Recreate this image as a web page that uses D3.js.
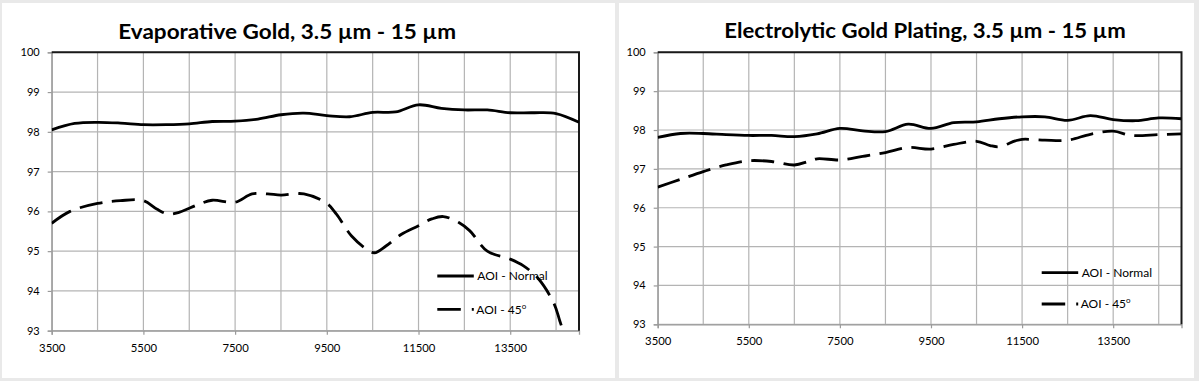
<!DOCTYPE html>
<html>
<head>
<meta charset="utf-8">
<script src="https://cdn.jsdelivr.net/npm/d3@7"></script>
<style>
  html, body { margin: 0; padding: 0; background: #e9e9e9; }
  svg { display: block; }
  text { font-family: Lato, "Open Sans", "Liberation Sans", sans-serif; fill: #000; }
</style>
</head>
<body>
<svg id="chart" width="1199" height="381"></svg>
<script>
// ---------- data ----------
const titles = ["Evaporative Gold, 3.5 \u00b5m - 15 \u00b5m", "Electrolytic Gold Plating, 3.5 \u00b5m - 15 \u00b5m"];
const seriesNames = ["AOI - Normal", "AOI - 45"];
const xTickLabels = ["3500", "5500", "7500", "9500", "11500", "13500"];
const xGridValues = [3500, 4500, 5500, 6500, 7500, 8500, 9500, 10500, 11500, 12500, 13500, 14500];
const yTickLabels = ["93", "94", "95", "96", "97", "98", "99", "100"];

const evapNormalWl = [3500, 4000, 4500, 5000, 5500, 6000, 6500, 7000, 7500, 8000, 8500, 9000, 9500, 10000, 10500, 11000, 11500, 12000, 12500, 13000, 13500, 14000, 14500, 15000];
const evapNormal   = [98.05, 98.21, 98.24, 98.22, 98.18, 98.18, 98.2, 98.26, 98.27, 98.32, 98.43, 98.47, 98.41, 98.38, 98.49, 98.5, 98.68, 98.59, 98.55, 98.55, 98.48, 98.48, 98.46, 98.24];

const evap45Wl = [3500, 3900, 4500, 5000, 5500, 5790, 6040, 6290, 6710, 7000, 7500, 7870, 8210, 8500, 9000, 9500, 9710, 10040, 10380, 10540, 10790, 11120, 11500, 11790, 12040, 12380, 12620, 13000, 13500, 13790, 14120, 14460, 14580, 14680];
const evap45   = [95.70, 96.0, 96.2, 96.27, 96.27, 96.06, 95.93, 95.98, 96.18, 96.28, 96.23, 96.44, 96.44, 96.41, 96.44, 96.2, 95.93, 95.38, 95.04, 94.96, 95.13, 95.42, 95.64, 95.81, 95.87, 95.72, 95.51, 95.0, 94.8, 94.63, 94.3, 93.67, 93.25, 92.9];

const electroNormalWl = [3500, 4000, 4500, 5000, 5500, 6000, 6500, 7000, 7500, 8000, 8500, 9000, 9500, 10000, 10500, 11000, 11500, 12000, 12500, 13000, 13500, 14000, 14500, 15000];
const electroNormal   = [97.81, 97.91, 97.91, 97.88, 97.86, 97.86, 97.83, 97.9, 98.04, 97.98, 97.96, 98.15, 98.04, 98.19, 98.21, 98.29, 98.34, 98.34, 98.25, 98.37, 98.27, 98.24, 98.31, 98.29];

const electro45Wl = [3500, 4000, 4500, 5000, 5500, 6000, 6500, 6800, 7000, 7500, 8000, 8500, 9000, 9500, 10000, 10500, 10800, 11000, 11350, 11500, 12000, 12500, 13000, 13500, 13900, 14500, 15000];
const electro45   = [96.53, 96.73, 96.93, 97.10, 97.21, 97.19, 97.10, 97.19, 97.26, 97.23, 97.32, 97.42, 97.55, 97.51, 97.63, 97.71, 97.6, 97.57, 97.72, 97.76, 97.74, 97.74, 97.89, 97.97, 97.86, 97.88, 97.9];

// ---------- layout ----------
const svg = d3.select("#chart");

const panels = [
  { px: 2, py: 3, pw: 613, ph: 375,
    x0: 51.7, x1: 579, y0: 52.3, y1: 330.7,
    titleX: 118.3, titleW: 337.7, titleY: 38.5,
    legX: 437.3, legY1: 276, legY2: 309.3,
    normalWl: evapNormalWl, normal: evapNormal, a45Wl: evap45Wl, a45: evap45 },
  { px: 619, py: 3, pw: 575, ph: 375,
    x0: 657.7, x1: 1181.5, y0: 52.3, y1: 324.3,
    titleX: 724.3, titleW: 401.4, titleY: 37.5,
    legX: 1041.7, legY1: 272.7, legY2: 304,
    normalWl: electroNormalWl, normal: electroNormal, a45Wl: electro45Wl, a45: electro45 }
];

panels.forEach((p, i) => {
  const g = svg.append("g");
  g.append("rect").attr("x", p.px).attr("y", p.py).attr("width", p.pw).attr("height", p.ph).attr("fill", "#fff");

  const x = d3.scaleLinear().domain([3500, 15000]).range([p.x0, p.x1]);
  const y = d3.scaleLinear().domain([93, 100]).range([p.y1, p.y0]);

  // title
  g.append("text").attr("x", p.titleX).attr("y", p.titleY)
    .attr("font-size", 20).attr("font-weight", "bold")
    .attr("textLength", p.titleW).attr("lengthAdjust", "spacingAndGlyphs")
    .text(titles[i]);

  // vertical gridlines
  g.append("g").selectAll("line").data(xGridValues).join("line")
    .attr("x1", d => x(d)).attr("x2", d => x(d))
    .attr("y1", p.y0).attr("y2", p.y1)
    .attr("stroke", "#b4b4b4").attr("stroke-width", 1.2);
  // horizontal gridlines
  g.append("g").selectAll("line").data(yTickLabels.map(Number)).join("line")
    .attr("x1", p.x0).attr("x2", p.x1)
    .attr("y1", d => y(d)).attr("y2", d => y(d))
    .attr("stroke", "#b4b4b4").attr("stroke-width", 1.2);

  // y axis
  const yAxis = d3.axisLeft(y).tickValues(yTickLabels.map(Number)).tickFormat(d3.format("d")).tickSize(4).tickPadding(8);
  const ya = g.append("g").attr("transform", `translate(${p.x0},0)`).call(yAxis);
  ya.select(".domain").attr("stroke", "#9a9a9a").attr("stroke-width", 1.3);
  ya.selectAll(".tick line").attr("stroke", "#9a9a9a").attr("stroke-width", 1.2);
  ya.selectAll(".tick text").attr("font-size", 11).attr("font-family", "Lato, sans-serif").attr("fill", "#000");

  // x axis
  const xAxis = d3.axisBottom(x).tickValues(xTickLabels.map(Number)).tickFormat(d3.format("d")).tickSize(4).tickPadding(9);
  const xa = g.append("g").attr("transform", `translate(0,${p.y1})`).call(xAxis);
  xa.select(".domain").attr("stroke", "#9a9a9a").attr("stroke-width", 1.3);
  xa.selectAll(".tick line").attr("stroke", "#9a9a9a").attr("stroke-width", 1.2);
  xa.selectAll(".tick text").attr("font-size", 11.3).attr("font-family", "Lato, sans-serif").attr("fill", "#000");

  // top & right border
  g.append("path")
    .attr("d", `M${p.x0},${p.y0}H${p.x1}V${p.y1}`)
    .attr("fill", "none").attr("stroke", "#1a1a1a").attr("stroke-width", 2);

  // clip
  const clipId = "clip" + i;
  svg.append("clipPath").attr("id", clipId).append("rect")
    .attr("x", p.x0).attr("y", p.y0 - 5).attr("width", p.x1 - p.x0).attr("height", p.y1 - p.y0 + 6);

  const line = d3.line().x(d => x(d[0])).y(d => y(d[1])).curve(d3.curveCatmullRom.alpha(0.5));

  const normalPts = p.normalWl.map((w, k) => [w, p.normal[k]]);
  const a45Pts = p.a45Wl.map((w, k) => [w, p.a45[k]]);

  g.append("path").attr("clip-path", `url(#${clipId})`)
    .attr("d", line(normalPts)).attr("fill", "none")
    .attr("stroke", "#000").attr("stroke-width", 2.8);
  g.append("path").attr("clip-path", `url(#${clipId})`)
    .attr("d", line(a45Pts)).attr("fill", "none")
    .attr("stroke", "#000").attr("stroke-width", 2.8)
    .attr("stroke-dasharray", "23,9.5");

  // legend
  g.append("line").attr("x1", p.legX).attr("x2", p.legX + 36.5)
    .attr("y1", p.legY1).attr("y2", p.legY1)
    .attr("stroke", "#000").attr("stroke-width", 2.8);
  g.append("text").attr("x", p.legX + 40).attr("y", p.legY1 + 4.3)
    .attr("font-size", 12).text(seriesNames[0]);

  g.append("line").attr("x1", p.legX).attr("x2", p.legX + 36.5)
    .attr("y1", p.legY2).attr("y2", p.legY2)
    .attr("stroke", "#000").attr("stroke-width", 2.8)
    .attr("stroke-dasharray", "23.5,11");
  const t2 = g.append("text").attr("x", p.legX + 39).attr("y", p.legY2 + 4.3)
    .attr("font-size", 12).text(seriesNames[1]);
  t2.append("tspan").attr("font-size", 8).attr("dy", -5).text("o");
});
</script>
</body>
</html>
